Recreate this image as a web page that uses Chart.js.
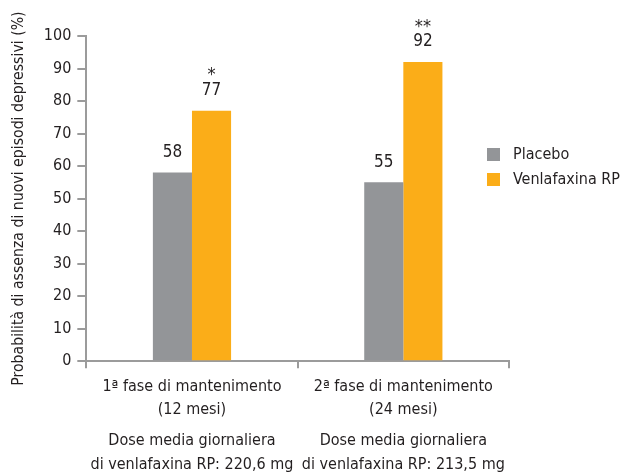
<!DOCTYPE html>
<html>
<head>
<meta charset="utf-8">
<script src="https://cdn.jsdelivr.net/npm/chart.js@4"></script>
<style>
  html, body { margin: 0; padding: 0; background: #fff; }
  #wrap { width: 622px; height: 475px; }
</style>
</head>
<body>
<div id="wrap"><canvas id="myChart"></canvas></div>
<script>
const phaseLabels = [
    ["1ª fase di mantenimento", "(12 mesi)"],
    ["2ª fase di mantenimento", "(24 mesi)"]
];
const doseLabels = [
    ["Dose media giornaliera", "di venlafaxina RP: 220,6 mg"],
    ["Dose media giornaliera", "di venlafaxina RP: 213,5 mg"]
];
const placeboValues = [58, 55];
const venlafaxinaValues = [77, 92];
const venlafaxinaStars = ["*", "**"];
const yTicks = [0, 10, 20, 30, 40, 50, 60, 70, 80, 90, 100];

const FONT = "'Liberation Sans Narrow', 'DejaVu Sans Condensed', 'Arial Narrow', sans-serif";
const TEXT = "#231f20";
const AXIS = "#9b9b9b";
const GRAY = "#939598";
const ORANGE = "#fbad18";

// value labels and stars above the bars
const barLabels = {
    id: "barLabels",
    afterDatasetsDraw(chart) {
        const ctx = chart.ctx;
        ctx.save();
        ctx.fillStyle = TEXT;
        ctx.textAlign = "center";
        ctx.textBaseline = "middle";
        chart.data.datasets.forEach((ds, i) => {
            chart.getDatasetMeta(i).data.forEach((bar, j) => {
                ctx.font = "17px " + FONT;
                ctx.fillText(ds.data[j], bar.x, bar.y - 20);
                if (ds.stars && ds.stars[j]) {
                    ctx.font = "18px " + FONT;
                    ctx.fillText(ds.stars[j], bar.x, bar.y - 35);
                }
            });
        });
        ctx.restore();
    }
};

// legend to the right of the plot
const sideLegend = {
    id: "sideLegend",
    afterDraw(chart) {
        const ctx = chart.ctx;
        ctx.save();
        ctx.font = "16px " + FONT;
        ctx.textBaseline = "middle";
        ctx.textAlign = "left";
        chart.data.datasets.forEach((ds, i) => {
            const y = 155 + i * 25;
            ctx.fillStyle = ds.backgroundColor;
            ctx.fillRect(487, y - 7, 13, 13);
            ctx.fillStyle = TEXT;
            ctx.fillText(ds.label, 513, y);
        });
        ctx.restore();
    }
};

const myChart = new Chart(document.getElementById("myChart"), {
    type: "bar",
    data: {
        labels: phaseLabels,
        datasets: [
            {
                label: "Placebo",
                data: placeboValues,
                backgroundColor: GRAY
            },
            {
                label: "Venlafaxina RP",
                data: venlafaxinaValues,
                stars: venlafaxinaStars,
                backgroundColor: ORANGE
            }
        ]
    },
    options: {
        responsive: true,
        maintainAspectRatio: false,
        animation: false,
        datasets: {
            bar: {
                categoryPercentage: 0.37,
                barPercentage: 1.0
            }
        },
        layout: {
            padding: { top: 36, right: 113, left: 10, bottom: 0 }
        },
        scales: {
            x: {
                grid: {
                    display: true,
                    drawOnChartArea: false,
                    drawTicks: true,
                    tickLength: 7,
                    color: AXIS,
                    lineWidth: 2
                },
                border: { display: true, color: AXIS, width: 2 },
                ticks: {
                    color: TEXT,
                    padding: 7,
                    font: { family: FONT, size: 16, lineHeight: 1.45 }
                }
            },
            x2: {
                type: "category",
                position: "bottom",
                labels: doseLabels,
                grid: { display: false, drawTicks: false },
                border: { display: false },
                ticks: {
                    color: TEXT,
                    padding: 1,
                    font: { family: FONT, size: 16, lineHeight: 1.45 }
                },
                afterFit(scale) {
                    scale.height -= 2;
                }
            },
            y: {
                min: 0,
                max: 100,
                afterBuildTicks(scale) {
                    scale.ticks = yTicks.map(v => ({ value: v }));
                },
                grid: {
                    display: true,
                    drawOnChartArea: false,
                    drawTicks: true,
                    tickLength: 9,
                    color: AXIS,
                    lineWidth: 2
                },
                border: { display: true, color: AXIS, width: 2 },
                ticks: {
                    color: TEXT,
                    padding: 6,
                    font: { family: FONT, size: 16 }
                },
                title: {
                    display: true,
                    text: "Probabilità di assenza di nuovi episodi depressivi (%)",
                    color: TEXT,
                    padding: { top: 0, bottom: 9 },
                    font: { family: FONT, size: 15.7 }
                }
            }
        },
        plugins: {
            legend: { display: false },
            tooltip: { enabled: false }
        }
    },
    plugins: [barLabels, sideLegend]
});
</script>
</body>
</html>
